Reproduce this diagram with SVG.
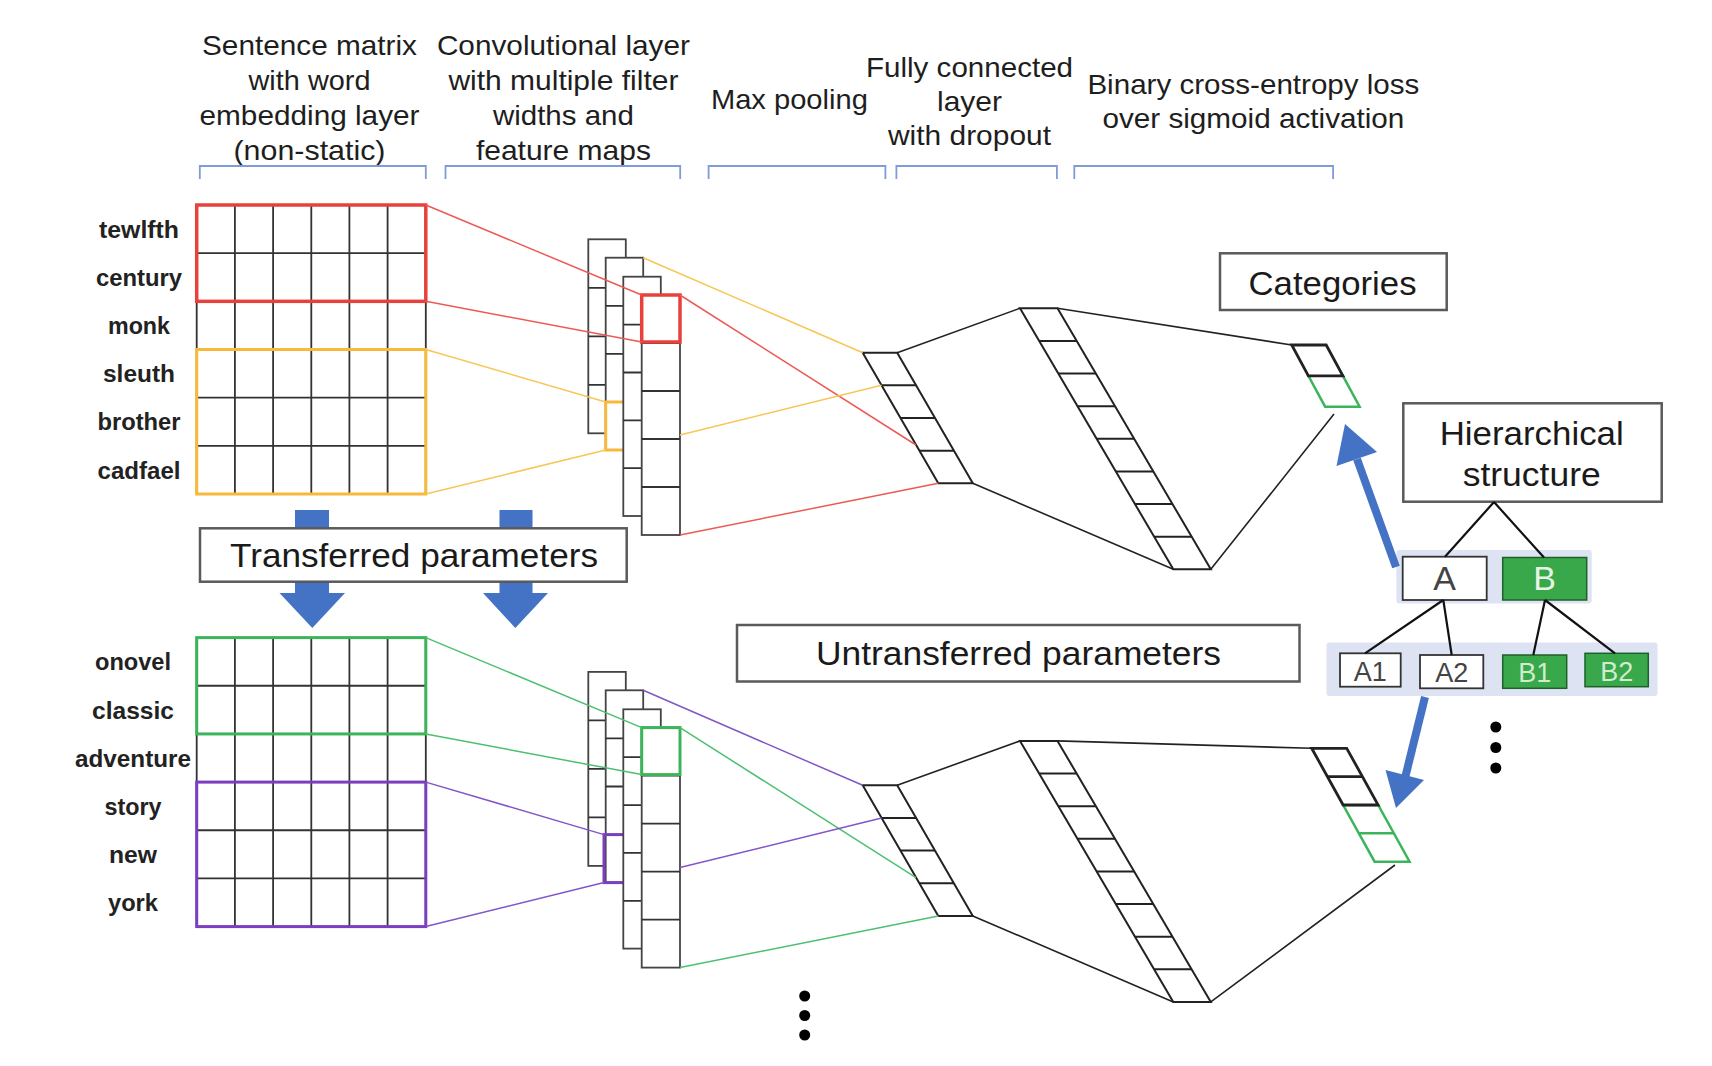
<svg xmlns="http://www.w3.org/2000/svg" width="1712" height="1066" viewBox="0 0 1712 1066">
<defs>
<style>
.hd{font-family:"Liberation Sans",Arial,sans-serif;font-size:28px;fill:#1e1e1e;text-anchor:middle}
.lb{font-family:"Liberation Sans",Arial,sans-serif;font-size:23px;font-weight:bold;fill:#222;text-anchor:middle}
.bx{font-family:"Liberation Sans",Arial,sans-serif;font-size:34px;fill:#1a1a1a;text-anchor:middle}
.tr{font-family:"Liberation Sans",Arial,sans-serif;fill:#444;text-anchor:middle}
.brk{fill:none;stroke:#7f9bd9;stroke-width:1.8}
.grid{fill:none;stroke:#333;stroke-width:1.8}
.cell{fill:#fff;stroke:#444;stroke-width:1.8}
.strip{fill:#fff;stroke:#222;stroke-width:2}
.box{fill:#fff;stroke:#5a5a5a;stroke-width:2.5}
.red{fill:none;stroke:#e8413c;stroke-width:3.5}
.yel{fill:none;stroke:#f6b93b;stroke-width:3}
.grn{fill:none;stroke:#3cb55a;stroke-width:3}
.pur{fill:none;stroke:#7a3fc0;stroke-width:3}
.cr{stroke:#ec5a55;stroke-width:1.5;fill:none}
.cy{stroke:#f8c656;stroke-width:1.5;fill:none}
.cg{stroke:#4cc070;stroke-width:1.5;fill:none}
.cp{stroke:#8255c8;stroke-width:1.5;fill:none}
.ck{stroke:#222;stroke-width:1.6;fill:none}
.blue{fill:#4472c4}
.bl{stroke:#4472c4;stroke-width:8;fill:none}
.tl{stroke:#111;stroke-width:2.2;fill:none}
.band{fill:#dde3f3}
.gfill{fill:#38a84a;stroke:#1f5f2a;stroke-width:1.5}
.wfill{fill:#fff;stroke:#333;stroke-width:1.8}
</style>
</defs>
<rect width="1712" height="1066" fill="#fff"/>

<g id="headers">
<text class="hd" x="309.5" y="55" textLength="215" lengthAdjust="spacingAndGlyphs">Sentence matrix</text>
<text class="hd" x="309.5" y="90" textLength="122" lengthAdjust="spacingAndGlyphs">with word</text>
<text class="hd" x="309.5" y="125" textLength="220" lengthAdjust="spacingAndGlyphs">embedding layer</text>
<text class="hd" x="309.5" y="159.5" textLength="152" lengthAdjust="spacingAndGlyphs">(non-static)</text>
<text class="hd" x="563.4" y="55" textLength="253" lengthAdjust="spacingAndGlyphs">Convolutional layer</text>
<text class="hd" x="563.4" y="90" textLength="230" lengthAdjust="spacingAndGlyphs">with multiple filter</text>
<text class="hd" x="563.4" y="125" textLength="141" lengthAdjust="spacingAndGlyphs">widths and</text>
<text class="hd" x="563.4" y="159.5" textLength="175" lengthAdjust="spacingAndGlyphs">feature maps</text>
<text class="hd" x="789.4" y="109" textLength="157" lengthAdjust="spacingAndGlyphs">Max pooling</text>
<text class="hd" x="969.5" y="77" textLength="207" lengthAdjust="spacingAndGlyphs">Fully connected</text>
<text class="hd" x="969.5" y="111" textLength="65" lengthAdjust="spacingAndGlyphs">layer</text>
<text class="hd" x="969.5" y="145" textLength="163" lengthAdjust="spacingAndGlyphs">with dropout</text>
<text class="hd" x="1253.4" y="94" textLength="332" lengthAdjust="spacingAndGlyphs">Binary cross-entropy loss</text>
<text class="hd" x="1253.4" y="128" textLength="302" lengthAdjust="spacingAndGlyphs">over sigmoid activation</text>
<path class="brk" d="M199.8 179 V166 H425.8 V179 M445.5 179 V166 H680.2 V179 M708.6 179 V166 H885.4 V179 M896.4 179 V166 H1056.9 V179 M1074.3 179 V166 H1333.1 V179"/>
</g>

<g id="transfer-arrows">
<rect class="blue" x="295" y="510" width="34" height="85"/>
<polygon class="blue" points="279.5,593 345,593 312.3,628"/>
<rect class="blue" x="499.5" y="510" width="33" height="85"/>
<polygon class="blue" points="483,593 548,593 515.3,628"/>
</g>

<g id="labels-top">
<text class="lb" x="139" y="237.6" textLength="80" lengthAdjust="spacingAndGlyphs">tewlfth</text>
<text class="lb" x="139" y="285.8" textLength="86" lengthAdjust="spacingAndGlyphs">century</text>
<text class="lb" x="139" y="334" textLength="62" lengthAdjust="spacingAndGlyphs">monk</text>
<text class="lb" x="139" y="382.2" textLength="72" lengthAdjust="spacingAndGlyphs">sleuth</text>
<text class="lb" x="139" y="430.4" textLength="83" lengthAdjust="spacingAndGlyphs">brother</text>
<text class="lb" x="139" y="478.6" textLength="83" lengthAdjust="spacingAndGlyphs">cadfael</text>
</g>

<g id="matrix-top">
<rect x="196.7" y="205" width="229.1" height="289" fill="#fff"/>
<path class="grid" d="M196.7 205 V494 M234.9 205 V494 M273.1 205 V494 M311.3 205 V494 M349.4 205 V494 M387.6 205 V494 M425.8 205 V494 M196.7 253.17 H425.8 M196.7 301.33 H425.8 M196.7 349.5 H425.8 M196.7 397.67 H425.8 M196.7 445.83 H425.8"/>
<rect class="red" x="196.7" y="205" width="229.1" height="96.33"/>
<rect class="yel" x="196.7" y="349.5" width="229.1" height="144.5"/>
</g>

<g id="conv-top">
<rect class="cell" x="588.3" y="239.3" width="37.5" height="194"/>
<path class="grid" d="M588.3 287.8 H625.8 M588.3 336.3 H625.8 M588.3 384.8 H625.8"/>
<rect class="cell" x="605.7" y="257.7" width="37.5" height="192.3"/>
<path class="grid" d="M605.7 305.8 H643.2 M605.7 353.9 H643.2"/>
<rect class="yel" x="605.7" y="402" width="37.5" height="48"/>
<rect class="cell" x="623.3" y="276.7" width="37.5" height="239.3"/>
<path class="grid" d="M623.3 324.6 H660.8 M623.3 372.5 H660.8 M623.3 420.3 H660.8 M623.3 468.2 H660.8"/>
<rect class="cell" x="641.7" y="295" width="38.3" height="240"/>
<path class="grid" d="M641.7 343 H680 M641.7 391 H680 M641.7 439 H680 M641.7 487 H680"/>
<rect class="red" x="641.7" y="295" width="38.3" height="47"/>
</g>

<g id="pool-top">
<polygon class="strip" points="862.7,352.7 897.2,352.7 972.8,483.3 938.3,483.3"/>
<path class="ck" d="M881.6 385.35 H916.1 M900.5 418 H935 M919.4 450.65 H953.9" style="stroke-width:2"/>
</g>

<g id="fc-top">
<polygon class="strip" points="1020,308.3 1057.5,308.3 1210.8,569.3 1173.3,569.3"/>
<path class="ck" style="stroke-width:2" d="M1039.16 340.9 H1076.66 M1058.33 373.55 H1095.83 M1077.49 406.2 H1114.99 M1096.66 438.8 H1134.16 M1115.82 471.4 H1153.32 M1134.98 504.05 H1172.48 M1154.15 536.7 H1191.65"/>
</g>

<g id="output-top">
<polygon points="1308.4,375.85 1342.9,375.85 1359.6,406.7 1325.1,406.7" fill="#fff" stroke="#3cb55a" stroke-width="2.5"/>
<polygon points="1291.7,345 1326.2,345 1342.9,375.85 1308.4,375.85" fill="#fff" stroke="#222" stroke-width="2.8"/>
</g>

<g id="categories">
<rect class="box" x="1220" y="253.3" width="226.7" height="56.7"/>
<text class="bx" x="1332.5" y="295" font-size="33" textLength="168" lengthAdjust="spacingAndGlyphs">Categories</text>
</g>

<g id="hierarchical-structure">
<rect class="box" x="1403.3" y="403.3" width="258.4" height="98.4"/>
<text class="bx" x="1531.7" y="445" font-size="32" textLength="184" lengthAdjust="spacingAndGlyphs">Hierarchical</text>
<text class="bx" x="1531.7" y="486" font-size="32" textLength="138" lengthAdjust="spacingAndGlyphs">structure</text>
</g>

<g id="tree">
<rect class="band" x="1396.4" y="550" width="195.3" height="53.5" rx="3"/>
<rect class="band" x="1326.5" y="642.5" width="331" height="53.5" rx="3"/>
<rect class="wfill" x="1402.7" y="556.7" width="84" height="43.3"/>
<text class="tr" x="1444.7" y="590" font-size="34">A</text>
<rect class="gfill" x="1502.7" y="557.5" width="84" height="42.5"/>
<text class="tr" x="1544.7" y="590" font-size="34" style="fill:#e6f4e6">B</text>
<rect class="wfill" x="1340" y="653.3" width="60.7" height="33.4"/>
<text class="tr" x="1370.3" y="680.5" font-size="27">A1</text>
<rect class="wfill" x="1420" y="655" width="63.3" height="33.3"/>
<text class="tr" x="1451.7" y="682" font-size="27">A2</text>
<rect class="gfill" x="1502.7" y="655" width="64" height="33.3"/>
<text class="tr" x="1534.7" y="682" font-size="27" style="fill:#cfeccf">B1</text>
<rect class="gfill" x="1585" y="653.3" width="63.3" height="33.4"/>
<text class="tr" x="1616.7" y="680.5" font-size="27" style="fill:#cfeccf">B2</text>
</g>

<g id="transferred">
<rect class="box" x="200" y="528.3" width="426.7" height="53.4"/>
<text class="bx" x="414" y="566.5" textLength="368" lengthAdjust="spacingAndGlyphs">Transferred  parameters</text>
</g>

<g id="untransferred">
<rect class="box" x="737" y="625" width="562.5" height="56.5"/>
<text class="bx" x="1018.5" y="665" textLength="405" lengthAdjust="spacingAndGlyphs">Untransferred  parameters</text>
</g>

<g id="labels-bottom">
<text class="lb" x="133" y="670.3" textLength="76" lengthAdjust="spacingAndGlyphs">onovel</text>
<text class="lb" x="133" y="718.5" textLength="82" lengthAdjust="spacingAndGlyphs">classic</text>
<text class="lb" x="133" y="766.7" textLength="116" lengthAdjust="spacingAndGlyphs">adventure</text>
<text class="lb" x="133" y="814.9" textLength="57" lengthAdjust="spacingAndGlyphs">story</text>
<text class="lb" x="133" y="863.1" textLength="48" lengthAdjust="spacingAndGlyphs">new</text>
<text class="lb" x="133" y="911.3" textLength="50" lengthAdjust="spacingAndGlyphs">york</text>
</g>

<g id="matrix-bottom" transform="translate(0,432.6)">
<rect x="196.7" y="205" width="229.1" height="289" fill="#fff"/>
<path class="grid" d="M196.7 205 V494 M234.9 205 V494 M273.1 205 V494 M311.3 205 V494 M349.4 205 V494 M387.6 205 V494 M425.8 205 V494 M196.7 253.17 H425.8 M196.7 301.33 H425.8 M196.7 349.5 H425.8 M196.7 397.67 H425.8 M196.7 445.83 H425.8"/>
<rect class="grn" x="196.7" y="205" width="229.1" height="96.33"/>
<rect class="pur" x="196.7" y="349.5" width="229.1" height="144.5"/>
</g>

<g id="conv-bottom" transform="translate(0,432.6)">
<rect class="cell" x="588.3" y="239.3" width="37.5" height="194"/>
<path class="grid" d="M588.3 287.8 H625.8 M588.3 336.3 H625.8 M588.3 384.8 H625.8"/>
<rect class="cell" x="605.7" y="257.7" width="37.5" height="192.3"/>
<path class="grid" d="M605.7 305.8 H643.2 M605.7 353.9 H643.2"/>
<rect class="pur" x="604" y="402" width="39.2" height="48"/>
<rect class="cell" x="623.3" y="276.7" width="37.5" height="239.3"/>
<path class="grid" d="M623.3 324.6 H660.8 M623.3 372.5 H660.8 M623.3 420.3 H660.8 M623.3 468.2 H660.8"/>
<rect class="cell" x="641.7" y="295" width="38.3" height="240"/>
<path class="grid" d="M641.7 343 H680 M641.7 391 H680 M641.7 439 H680 M641.7 487 H680"/>
<rect class="grn" x="641.7" y="295" width="38.3" height="47"/>
</g>

<g id="pool-bottom" transform="translate(0,432.6)">
<polygon class="strip" points="862.7,352.7 897.2,352.7 972.8,483.3 938.3,483.3"/>
<path class="ck" d="M881.6 385.35 H916.1 M900.5 418 H935 M919.4 450.65 H953.9" style="stroke-width:2"/>
</g>

<g id="fc-bottom" transform="translate(0,432.6)">
<polygon class="strip" points="1020,308.3 1057.5,308.3 1210.8,569.3 1173.3,569.3"/>
<path class="ck" style="stroke-width:2" d="M1039.16 340.9 H1076.66 M1058.33 373.55 H1095.83 M1077.49 406.2 H1114.99 M1096.66 438.8 H1134.16 M1115.82 471.4 H1153.32 M1134.98 504.05 H1172.48 M1154.15 536.7 H1191.65"/>
</g>

<g id="output-bottom">
<polygon points="1343.16,805 1378.16,805 1409.6,861.7 1374.6,861.7" fill="#fff" stroke="#3cb55a" stroke-width="2.5"/>
<path d="M1358.9 833.35 H1393.9" stroke="#3cb55a" stroke-width="2.5"/>
<polygon points="1311.7,748.3 1346.7,748.3 1378.16,805 1343.16,805" fill="#fff" stroke="#222" stroke-width="2.8"/>
<path d="M1327.43 776.65 H1362.43" stroke="#222" stroke-width="2.8"/>
</g>

<g id="dots">
<circle cx="1495.8" cy="727" r="5.5" fill="#000"/>
<circle cx="1495.8" cy="747.5" r="5.5" fill="#000"/>
<circle cx="1495.8" cy="768" r="5.5" fill="#000"/>
<circle cx="804.7" cy="996" r="5.5" fill="#000"/>
<circle cx="804.7" cy="1015.5" r="5.5" fill="#000"/>
<circle cx="804.7" cy="1035" r="5.5" fill="#000"/>
</g>

<g id="connectors">
<path class="cr" d="M425.8 205 L641.7 295 M425.8 301.3 L641.7 342 M680 295 L916 445 M680 535 L938.3 483.3"/>
<path class="cy" d="M425.8 349.5 L605.7 402 M425.8 494 L605.7 450 M643.2 257.7 L862.7 352.7 M680 435 L881.6 385.35"/>
<g transform="translate(0,432.6)">
<path class="cg" d="M425.8 205 L641.7 295 M425.8 301.3 L641.7 342 M680 295 L916 445 M680 535 L938.3 483.3"/>
<path class="cp" d="M425.8 349.5 L604 402 M425.8 494 L604 450 M643.2 257.7 L862.7 352.7 M680 435 L881.6 385.35"/>
</g>
<path class="ck" d="M897.2 352.7 L1020 308.3 M972.8 483.3 L1173.3 569.3 M1057.5 308.3 L1291.7 345 M1210.8 569.3 L1334 414"/>
<path class="ck" d="M897.2 785.3 L1020 740.9 M972.8 915.9 L1173.3 1001.9 M1057.5 740.9 L1311.7 748.3 M1210.8 1001.9 L1395 865"/>
<path class="tl" d="M1494 502 L1445 556.7 M1494 502 L1544 557.5 M1443.3 600 L1365 653.3 M1443.3 600 L1451.7 655 M1545 600 L1533.3 655 M1545 600 L1615 653.3"/>
<path class="bl" d="M1396 567 L1357 459"/>
<polygon class="blue" points="1345,424 1377,452 1336.5,466"/>
<path class="bl" d="M1425 697 L1405.5 776"/>
<polygon class="blue" points="1396,808 1385.5,770 1424,780"/>
</g>
</svg>
